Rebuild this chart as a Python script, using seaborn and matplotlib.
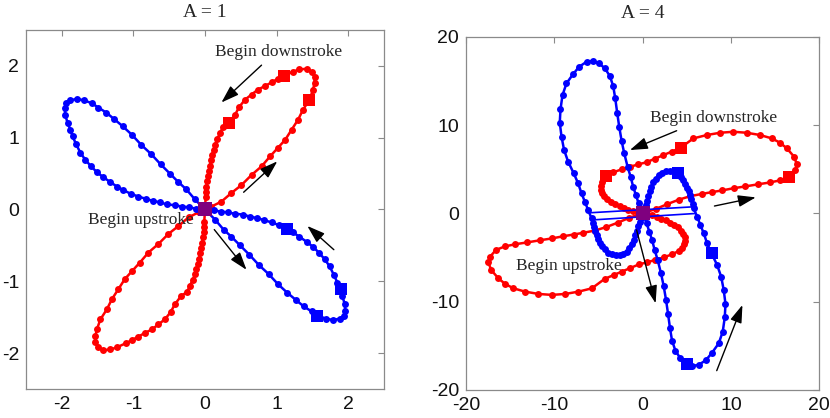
import matplotlib
matplotlib.use("Agg")
import matplotlib.pyplot as plt
import seaborn as sns

# ---- A = 1 panel: red (upper-right + lower-left lobes), blue (lower-right + upper-left lobes)
red1_up_x = [0, 0.01, 0.01, 0.02, 0.03, 0.04, 0.06, 0.07, 0.08, 0.10, 0.12, 0.14, 0.17, 0.21, 0.25,
             0.33, 0.42, 0.48, 0.56, 0.65, 0.74, 0.84, 0.93, 1.02, 1.10, 1.23, 1.32, 1.42, 1.49, 1.53,
             1.53, 1.51, 1.46, 1.37, 1.30, 1.21, 1.12, 1.02, 0.91, 0.79, 0.65, 0.51, 0.37, 0.23, 0.09, 0]
red1_up_y = [0, 0.18, 0.25, 0.32, 0.39, 0.47, 0.54, 0.61, 0.69, 0.76, 0.83, 0.90, 0.98, 1.06, 1.15,
             1.20, 1.32, 1.43, 1.53, 1.60, 1.67, 1.72, 1.77, 1.82, 1.86, 1.92, 1.95, 1.96, 1.92, 1.85,
             1.76, 1.67, 1.53, 1.39, 1.25, 1.11, 0.97, 0.86, 0.74, 0.60, 0.48, 0.34, 0.23, 0.11, 0.04, 0]
red1_lo_x = [0, -0.01, -0.01, -0.02, -0.03, -0.04, -0.06, -0.07, -0.08, -0.10, -0.12, -0.14, -0.17, -0.21, -0.25,
             -0.33, -0.42, -0.48, -0.56, -0.65, -0.74, -0.84, -0.93, -1.02, -1.10, -1.23, -1.32, -1.42, -1.49, -1.53,
             -1.53, -1.51, -1.46, -1.37, -1.30, -1.21, -1.12, -1.02, -0.91, -0.79, -0.65, -0.51, -0.37, -0.23, -0.09, 0]
red1_lo_y = [0, -0.18, -0.25, -0.32, -0.39, -0.47, -0.54, -0.61, -0.69, -0.76, -0.83, -0.90, -0.98, -1.06, -1.15,
             -1.20, -1.32, -1.43, -1.53, -1.60, -1.67, -1.72, -1.77, -1.82, -1.86, -1.92, -1.95, -1.96, -1.92, -1.85,
             -1.76, -1.67, -1.53, -1.39, -1.25, -1.11, -0.97, -0.86, -0.74, -0.60, -0.48, -0.34, -0.23, -0.11, -0.04, 0]

blue1_lo_x = [0, 0.12, 0.22, 0.32, 0.42, 0.53, 0.63, 0.73, 0.83, 0.93, 1.04, 1.14, 1.23, 1.32, 1.42, 1.51,
              1.59, 1.67, 1.74, 1.80, 1.85, 1.88, 1.92, 1.95, 1.96, 1.94, 1.88, 1.79, 1.69, 1.58, 1.49, 1.38,
              1.27, 1.15, 1.02, 0.89, 0.75, 0.62, 0.49, 0.37, 0.26, 0.14, 0]
blue1_lo_y = [0, -0.01, -0.03, -0.04, -0.06, -0.07, -0.10, -0.12, -0.15, -0.18, -0.22, -0.27, -0.32, -0.38,
              -0.45, -0.52, -0.60, -0.69, -0.79, -0.91, -1.02, -1.11, -1.21, -1.31, -1.41, -1.48, -1.52, -1.54,
              -1.52, -1.48, -1.42, -1.35, -1.26, -1.16, -1.04, -0.90, -0.77, -0.63, -0.50, -0.38, -0.28, -0.14, 0]
blue1_up_x = [0, -0.12, -0.22, -0.32, -0.42, -0.53, -0.63, -0.73, -0.83, -0.93, -1.04, -1.14, -1.23, -1.32,
              -1.42, -1.51, -1.59, -1.67, -1.74, -1.80, -1.85, -1.88, -1.92, -1.95, -1.96, -1.94, -1.88, -1.79,
              -1.69, -1.58, -1.49, -1.38, -1.27, -1.15, -1.02, -0.89, -0.75, -0.62, -0.49, -0.37, -0.26, -0.14, 0]
blue1_up_y = [0, 0.01, 0.03, 0.04, 0.06, 0.07, 0.10, 0.12, 0.15, 0.18, 0.22, 0.27, 0.32, 0.38, 0.45, 0.52,
              0.60, 0.69, 0.79, 0.91, 1.02, 1.11, 1.21, 1.31, 1.41, 1.48, 1.52, 1.54, 1.52, 1.48, 1.42, 1.35,
              1.26, 1.16, 1.04, 0.90, 0.77, 0.63, 0.50, 0.38, 0.28, 0.14, 0]

red1_sq_x = [0.33, 1.10, 1.46]
red1_sq_y = [1.20, 1.86, 1.53]
blue1_sq_x = [1.14, 1.90, 1.57]
blue1_sq_y = [-0.27, -1.11, -1.48]

# ---- A = 4 panel
red4_up_x = [0, 1.5, 2.8, 4.1, 5.4, 6.7, 7.8, 9.0, 10.3, 11.6, 13.1, 14.4, 15.6, 16.6, 17.27, 17.46, 17.15,
             16.33, 15.57, 14.63, 13.30, 11.79, 10.27, 8.76, 7.26, 5.74, 4.31, 3.29, 2.34, 1.39, 0.45, -0.50,
             -1.44, -2.38, -3.33, -4.16, -4.45, -4.65, -4.75, -4.75, -4.6, -4.35, -4.0, -3.55, -3.1, -2.6,
             -2.1, -1.6, -1.05, -0.5, 0]
red4_up_y = [0, 0.5, 1.05, 1.55, 1.95, 2.2, 2.4, 2.6, 2.85, 3.05, 3.3, 3.5, 3.75, 4.15, 4.91, 5.55, 6.42,
             7.37, 8.0, 8.5, 8.88, 9.14, 9.25, 9.14, 8.88, 8.5, 7.44, 7.0, 6.6, 6.2, 5.8, 5.55,
             5.28, 4.99, 4.65, 4.23, 3.9, 3.5, 3.1, 2.7, 2.3, 1.95, 1.6, 1.3, 1.05, 0.8,
             0.6, 0.4, 0.22, 0.08, 0]
red4_lo_x = [0, -1.5, -2.8, -4.1, -5.4, -6.7, -7.8, -9.0, -10.3, -11.6, -13.1, -14.4, -15.6, -16.6, -17.27,
             -17.46, -17.15, -16.33, -15.57, -14.63, -13.30, -11.79, -10.27, -8.76, -7.26, -5.74, -4.31, -3.29,
             -2.34, -1.39, -0.45, 0.50, 1.44, 2.38, 3.33, 4.16, 4.45, 4.65, 4.75, 4.75, 4.6, 4.35, 4.0, 3.55,
             3.1, 2.6, 2.1, 1.6, 1.05, 0.5, 0]
red4_lo_y = [0, -0.5, -1.05, -1.55, -1.95, -2.2, -2.4, -2.6, -2.85, -3.05, -3.3, -3.5, -3.75, -4.15, -4.91,
             -5.55, -6.42, -7.37, -8.0, -8.5, -8.88, -9.14, -9.25, -9.14, -8.88, -8.5, -7.44, -7.0,
             -6.6, -6.2, -5.8, -5.55, -5.28, -4.99, -4.65, -4.23, -3.9, -3.5, -3.1, -2.7, -2.3, -1.95, -1.6, -1.3,
             -1.05, -0.8, -0.6, -0.4, -0.22, -0.08, 0]

blue4_up_x = [0, -0.45, -0.76, -1.07, -1.36, -1.70, -2.08, -2.38, -2.65, -2.88, -3.10, -3.33, -3.71, -4.27,
              -4.92, -5.60, -6.35, -7.19, -7.87, -8.62, -9.07, -9.30, -9.38, -9.18, -8.89, -8.43, -7.80, -7.30,
              -6.92, -6.54, -6.17, -5.78, -5.65, -5.5, -5.35, -5.2, -5.05, -4.85, -4.6, -4.3, -3.9, -3.5, -3.05,
              -2.6, -2.2, -1.8, -1.5, -1.2, -1.0, -0.85, -0.65, -0.5, -0.35, -0.2, 0]
blue4_up_y = [0, 1.13, 2.07, 3.02, 4.15, 5.28, 6.80, 8.23, 9.82, 11.41, 13.04, 14.43, 15.57, 16.44,
              17.0, 17.3, 17.19, 16.62, 15.79, 14.74, 13.41, 11.79, 10.27, 8.69, 7.18, 5.85, 4.54, 3.40,
              2.27, 1.32, 0.37, -0.57, -1.1, -1.6, -2.05, -2.5, -2.9, -3.35, -3.75, -4.1, -4.45, -4.65, -4.75,
              -4.75, -4.6, -4.35, -3.95, -3.5, -3.0, -2.5, -1.95, -1.4, -0.95, -0.55, 0]
blue4_lo_x = [0, 0.45, 0.76, 1.07, 1.36, 1.70, 2.08, 2.38, 2.65, 2.88, 3.10, 3.33, 3.71, 4.27,
              4.92, 5.60, 6.35, 7.19, 7.87, 8.62, 9.07, 9.30, 9.38, 9.18, 8.89, 8.43, 7.80, 7.30,
              6.92, 6.54, 6.17, 5.78, 5.65, 5.5, 5.35, 5.2, 5.05, 4.85, 4.6, 4.3, 3.9, 3.5, 3.05,
              2.6, 2.2, 1.8, 1.5, 1.2, 1.0, 0.85, 0.65, 0.5, 0.35, 0.2, 0]
blue4_lo_y = [0, -1.13, -2.07, -3.02, -4.15, -5.28, -6.80, -8.23, -9.82, -11.41, -13.04, -14.43, -15.57, -16.44,
              -17.0, -17.3, -17.19, -16.62, -15.79, -14.74, -13.41, -11.79, -10.27, -8.69, -7.18, -5.85, -4.54,
              -3.40, -2.27, -1.32, -0.37, 0.57, 1.1, 1.6, 2.05, 2.5, 2.9, 3.35, 3.75, 4.1, 4.45, 4.65, 4.75,
              4.75, 4.6, 4.35, 3.95, 3.5, 3.0, 2.5, 1.95, 1.4, 0.95, 0.55, 0]

# the two thin straight blue segments across the centre
seg4_a_x = [-5.9, 5.9]
seg4_a_y = [0.07, 0.75]
seg4_b_x = [-5.9, 5.9]
seg4_b_y = [-0.76, -0.02]

red4_sq_x = [16.62, 4.31, -4.16]
red4_sq_y = [4.15, 7.44, 4.23]
blue4_sq_x = [4.04, 7.82, 4.99]
blue4_sq_y = [4.61, -4.46, -17.09]

ticks1 = [-2, -1, 0, 1, 2]
ticks4 = [-20, -10, 0, 10, 20]

sns.set_style("white")
plt.rcParams["font.family"] = ["Liberation Sans", "DejaVu Sans"]

RED = "#ff0000"
BLUE = "#0000ff"
PURPLE = "#7f007f"
GREY = "#8a8a8a"
SERIF = ["Liberation Serif", "DejaVu Serif"]


def draw_curve(ax, xs, ys, color, lw=1.8, ms=5.0):
    sns.lineplot(x=xs, y=ys, sort=False, estimator=None, color=color, linewidth=lw,
                 marker="o", markersize=ms, markeredgewidth=0, ax=ax)


def draw_squares(ax, xs, ys, color, size=72):
    sns.scatterplot(x=xs, y=ys, marker="s", s=size, color=color, linewidth=0, ax=ax, zorder=5)


def style_axes(ax, lim, ticks, title, title_pad):
    ax.set_xlim(-lim, lim)
    ax.set_ylim(-lim, lim)
    ax.set_xticks(ticks)
    ax.set_yticks(ticks)
    ax.set_xticklabels([str(t) for t in ticks])
    ax.set_yticklabels([str(t) for t in ticks])
    ax.tick_params(direction="in", length=4, width=0.8, color=GREY, labelsize=14,
                   top=True, right=True, pad=5, labelcolor="#111111")
    for sp in ax.spines.values():
        sp.set_color(GREY)
        sp.set_linewidth(0.9)
    ax.set_title(title, fontsize=14, family=SERIF, pad=title_pad)
    if ax.get_legend() is not None:
        ax.get_legend().remove()


def arrow(ax, tail, head):
    ax.annotate("", xy=head, xytext=tail,
                arrowprops=dict(arrowstyle="-|>,head_length=0.9,head_width=0.3",
                                color="black", lw=1.0, mutation_scale=12, shrinkA=0, shrinkB=0),
                zorder=6)


fig = plt.figure(figsize=(8.3, 4.18), dpi=100)
ax1 = fig.add_axes([0.0313, 0.0694, 0.4313, 0.8589])
ax2 = fig.add_axes([0.5614, 0.0677, 0.4257, 0.8438])

# left panel
draw_curve(ax1, red1_up_x, red1_up_y, RED)
draw_curve(ax1, red1_lo_x, red1_lo_y, RED)
draw_curve(ax1, blue1_lo_x, blue1_lo_y, BLUE)
draw_curve(ax1, blue1_up_x, blue1_up_y, BLUE)
draw_squares(ax1, red1_sq_x, red1_sq_y, RED)
draw_squares(ax1, blue1_sq_x, blue1_sq_y, BLUE)
draw_squares(ax1, [0], [0], PURPLE, size=90)
ax1.text(0.14, 2.2, "Begin downstroke", family=SERIF, fontsize=12.5, ha="left", va="center", zorder=7)
ax1.text(-1.64, -0.14, "Begin upstroke", family=SERIF, fontsize=12.5, ha="left", va="center", zorder=7)
arrow(ax1, (0.79, 2.01), (0.23, 1.49))
arrow(ax1, (0.54, 0.24), (1.01, 0.67))
arrow(ax1, (0.13, -0.28), (0.58, -0.84))
arrow(ax1, (1.80, -0.56), (1.43, -0.23))
style_axes(ax1, 2.5, ticks1, "A = 1", 9)

# right panel
draw_curve(ax2, red4_up_x, red4_up_y, RED)
draw_curve(ax2, red4_lo_x, red4_lo_y, RED)
draw_curve(ax2, blue4_up_x, blue4_up_y, BLUE)
draw_curve(ax2, blue4_lo_x, blue4_lo_y, BLUE)
sns.lineplot(x=seg4_a_x, y=seg4_a_y, color=BLUE, linewidth=1.2, ax=ax2)
sns.lineplot(x=seg4_b_x, y=seg4_b_y, color=BLUE, linewidth=1.2, ax=ax2)
draw_squares(ax2, red4_sq_x, red4_sq_y, RED)
draw_squares(ax2, blue4_sq_x, blue4_sq_y, BLUE)
draw_squares(ax2, [0], [0], PURPLE, size=90)
ax2.text(0.83, 10.77, "Begin downstroke", family=SERIF, fontsize=12.5, ha="left", va="center", zorder=7)
ax2.text(-14.36, -5.93, "Begin upstroke", family=SERIF, fontsize=12.5, ha="left", va="center", zorder=7)
arrow(ax2, (3.85, 9.37), (-1.44, 7.18))
arrow(ax2, (8.13, 0.83), (12.81, 1.81))
arrow(ax2, (-0.68, -1.89), (1.47, -10.2))
arrow(ax2, (8.39, -17.84), (11.3, -10.39))
style_axes(ax2, 20, ticks4, "A = 4", 14)

fig.savefig("out.png", dpi=100)
